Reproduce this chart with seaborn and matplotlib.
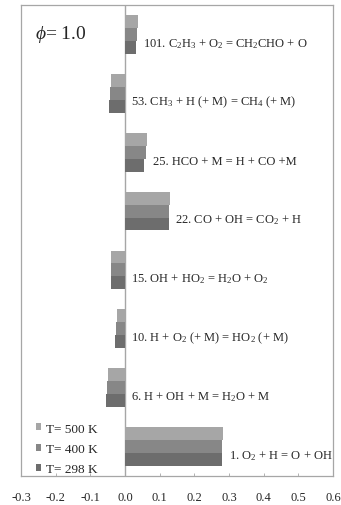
import numpy as np
import pandas as pd
import matplotlib
matplotlib.use("Agg")
import matplotlib.pyplot as plt
import seaborn as sns

# reactions, top to bottom
reactions = [
    "101. C$_2$H$_3$ + O$_2$ = CH$_2$CHO + O",
    "53. CH$_3$ + H (+ M) = CH$_4$ (+ M)",
    "25. HCO + M = H + CO +M",
    "22. CO + OH = CO$_2$ + H",
    "15. OH + HO$_2$ = H$_2$O + O$_2$",
    "10. H + O$_2$ (+ M) = HO$_2$ (+ M)",
    "6. H + OH + M = H$_2$O + M",
    "1. O$_2$ + H = O + OH",
]
temps = ["T= 500 K", "T= 400 K", "T= 298 K"]
sens_500 = [0.037, -0.041, 0.064, 0.129, -0.040, -0.024, -0.049, 0.283]
sens_400 = [0.035, -0.043, 0.060, 0.128, -0.041, -0.027, -0.053, 0.280]
sens_298 = [0.033, -0.046, 0.056, 0.128, -0.041, -0.030, -0.054, 0.280]
xticks = [-0.3, -0.2, -0.1, 0.0, 0.1, 0.2, 0.3, 0.4, 0.5, 0.6]

colors = ["#a6a6a6", "#878787", "#6d6d6d"]

sns.set_style("white")
plt.rcParams["font.family"] = ["Liberation Serif", "DejaVu Serif"]
plt.rcParams["mathtext.fontset"] = "custom"
plt.rcParams["mathtext.rm"] = "Liberation Serif"
plt.rcParams["mathtext.it"] = "Liberation Serif:italic"

rows = []
for t, vals in zip(temps, [sens_500, sens_400, sens_298]):
    for r, v in zip(reactions, vals):
        rows.append({"reaction": r, "temp": t, "value": v})
df = pd.DataFrame(rows)

fig = plt.figure(figsize=(3.41, 5.06), dpi=100)
ax = fig.add_axes([21 / 341, 1 - 477 / 506, 312 / 341, 471 / 506])

sns.barplot(data=df, y="reaction", x="value", hue="temp", order=reactions,
            hue_order=temps, palette=colors, orient="h", width=0.66, gap=0,
            saturation=1, ax=ax, errorbar=None, linewidth=0)

ax.set_xlim(-0.3, 0.6)
ax.set_ylim(7.5, -0.5)
ax.set_xticks(xticks)
ax.set_xticklabels([f"{v:.1f}" for v in xticks], fontsize=9)
ax.tick_params(axis="x", direction="in", length=2, width=0.6, color="#a6a6a6",
               pad=11, bottom=True)
ax.set_yticks([])
ax.set_xlabel("")
ax.set_ylabel("")
for sp in ax.spines.values():
    sp.set_color("#a6a6a6")
    sp.set_linewidth(0.9)
ax.axvline(0, color="#a6a6a6", lw=1.0, zorder=0.5)

# reaction labels next to the bars
for i, r in enumerate(reactions):
    xr = max(0, sens_500[i], sens_400[i], sens_298[i])
    ax.annotate(r, (xr, i), xytext=(4, -6), textcoords="offset points",
                ha="left", va="center", fontsize=9)

ax.text(0.045, 0.94, r"$\phi$= 1.0", transform=ax.transAxes, fontsize=14,
        ha="left", va="center")

leg = ax.legend(loc="lower left", frameon=False, fontsize=9.5,
                handlelength=0.4, handleheight=0.4, handletextpad=0.35,
                labelspacing=0.64, borderaxespad=0.0, bbox_to_anchor=(0.03, -0.01))

fig.savefig("out.png", dpi=100)
